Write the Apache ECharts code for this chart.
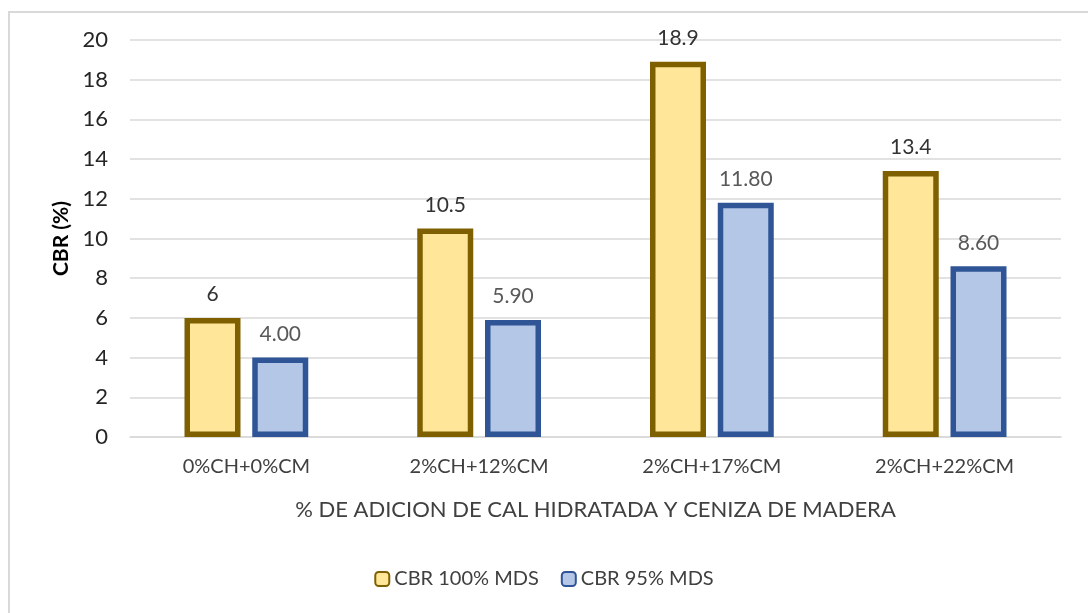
<!DOCTYPE html>
<html>
<head>
<meta charset="utf-8">
<script src="https://cdn.jsdelivr.net/npm/echarts@6/dist/echarts.min.js"></script>
<style>
  html, body { margin: 0; padding: 0; background: #fff; }
  #frame { position: absolute; left: 8px; top: 11px; width: 1090px; height: 620px; border: 2px solid #d9d9d9; box-sizing: border-box; }
  #chart { width: 1088px; height: 613px; position: absolute; left: 0; top: 0; }
</style>
</head>
<body>
<div id="frame"></div>
<div id="chart"></div>
<script>
const categories = ['0%CH+0%CM', '2%CH+12%CM', '2%CH+17%CM', '2%CH+22%CM'];
const cbr100 = [6, 10.5, 18.9, 13.4];
const cbr95 = [4.00, 5.90, 11.80, 8.60];
const cbr100Labels = ['6', '10.5', '18.9', '13.4'];
const cbr95Labels = ['4.00', '5.90', '11.80', '8.60'];
const seriesNames = ['CBR 100% MDS', 'CBR 95% MDS'];
const yTicks = [0, 2, 4, 6, 8, 10, 12, 14, 16, 18, 20];

const font = 'Lato, Open Sans, sans-serif';
const chart = echarts.init(document.getElementById('chart'));

chart.setOption({
  animation: false,
  textStyle: { fontFamily: font },
  grid: { left: 130, right: 27, top: 40, bottom: 176, containLabel: false },
  legend: {
    bottom: 19,
    left: 'center',
    itemWidth: 14,
    itemHeight: 14,
    itemGap: 22,
    textStyle: { fontSize: 20, color: '#404040', fontFamily: font },
    data: seriesNames
  },
  xAxis: {
    type: 'category',
    data: categories,
    name: '% DE ADICION DE CAL HIDRATADA Y CENIZA DE MADERA',
    nameLocation: 'middle',
    nameGap: 62,
    nameTextStyle: { fontSize: 22, color: '#404040' },
    axisLine: { lineStyle: { color: '#d9d9d9', width: 1.5 } },
    axisTick: { show: false },
    axisLabel: { fontSize: 20, color: '#404040', margin: 20 }
  },
  yAxis: {
    type: 'value',
    min: yTicks[0],
    max: yTicks[yTicks.length - 1],
    interval: 2,
    name: 'CBR (%)',
    nameLocation: 'middle',
    nameGap: 56,
    nameTextStyle: { fontSize: 21, color: '#000', fontWeight: 'bold' },
    axisLine: { show: false },
    axisTick: { show: false },
    axisLabel: { fontSize: 22, color: '#262626', margin: 22 },
    splitLine: { lineStyle: { color: '#d9d9d9', width: 1.5 } }
  },
  series: [
    {
      name: seriesNames[0],
      type: 'bar',
      data: cbr100,
      barWidth: 56,
      barGap: '21%',
      itemStyle: { color: '#FFE699', borderColor: '#7F6000', borderWidth: 5.5 },
      label: {
        show: true,
        position: 'top',
        distance: 13,
        fontSize: 21,
        color: '#333333',
        formatter: p => cbr100Labels[p.dataIndex]
      }
    },
    {
      name: seriesNames[1],
      type: 'bar',
      data: cbr95,
      barWidth: 56,
      itemStyle: { color: '#B4C7E7', borderColor: '#2F5597', borderWidth: 5.5 },
      label: {
        show: true,
        position: 'top',
        distance: 13,
        fontSize: 21,
        color: '#595959',
        formatter: p => cbr95Labels[p.dataIndex]
      }
    }
  ]
});
</script>
</body>
</html>
